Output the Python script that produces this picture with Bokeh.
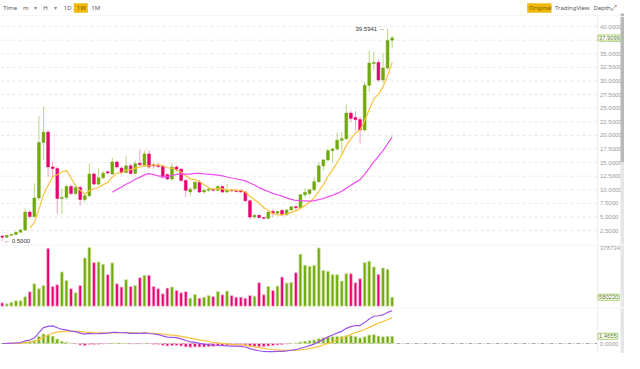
import numpy as np
from bokeh.plotting import figure
from bokeh.layouts import column
from bokeh.models import Range1d, Label, Span, ColumnDataSource
from bokeh.core.properties import value
from bokeh.embed import file_html
from bokeh.resources import INLINE

# ---------------- data (weekly candles) ----------------
opens = [1.5, 1.3, 1.65, 1.8, 2.2, 2.6, 5.9, 5.1, 8.5, 18.7,
         20.6, 14.2, 13.9, 8.4, 8.6, 10.6, 9.3, 10.4, 8.2, 8.9,
         12.9, 11.05, 12.2, 13.3, 12.9, 15.1, 14.0, 13.2, 14.4, 13.0,
         14.9, 14.5, 16.6, 14.6, 14.5, 14.3, 12.8, 12.0, 14.2, 13.8,
         11.7, 9.6, 10.2, 11.4, 9.6, 9.9, 10.1, 9.9, 10.6, 9.6,
         9.9, 9.8, 9.9, 9.6, 8.0, 5.0, 5.3, 4.9, 4.75, 6.0,
         5.7, 6.2, 5.4, 6.3, 6.9, 6.7, 9.1, 9.3, 10.0, 11.5,
         14.4, 15.5, 17.2, 17.5, 19.1, 19.4, 24.1, 23.3, 22.9, 21.0,
         29.2, 33.2, 33.4, 30.2, 32.4, 37.5]
highs = [1.6, 1.7, 1.9, 2.3, 2.9, 6.6, 6.3, 11.2, 23.6, 25.3,
         21.0, 15.1, 14.3, 10.2, 11.0, 11.0, 10.8, 10.8, 9.3, 14.9,
         13.2, 14.0, 13.5, 13.6, 15.9, 15.4, 14.3, 16.3, 14.8, 15.3,
         17.4, 17.2, 17.3, 15.0, 14.9, 14.5, 13.0, 14.9, 14.5, 14.0,
         12.0, 10.5, 11.6, 11.8, 10.3, 10.5, 10.3, 10.9, 10.8, 11.1,
         10.2, 10.1, 10.1, 9.8, 8.2, 5.6, 5.4, 5.0, 6.0, 6.5,
         6.2, 6.4, 6.4, 7.0, 7.1, 9.2, 10.3, 10.1, 12.3, 15.1,
         15.6, 17.6, 17.8, 20.5, 20.6, 25.7, 24.6, 24.5, 23.4, 29.9,
         35.6, 35.3, 34.0, 35.2, 39.5941, 38.3]
lows = [0.5, 1.2, 1.5, 1.7, 2.1, 2.5, 4.6, 4.9, 8.0, 15.5,
        12.3, 12.3, 5.6, 5.6, 8.2, 9.0, 9.0, 7.1, 7.8, 8.7,
        10.8, 10.7, 11.9, 12.8, 12.7, 13.9, 12.9, 13.0, 12.8, 12.9,
        14.3, 14.2, 13.9, 13.9, 14.0, 12.2, 11.8, 11.6, 13.4, 11.5,
        8.6, 8.9, 10.0, 9.4, 9.3, 9.6, 9.7, 9.7, 9.4, 9.4,
        9.6, 9.5, 9.5, 7.8, 4.5, 4.6, 4.7, 4.6, 4.6, 5.0,
        5.5, 5.1, 5.3, 6.1, 6.1, 6.6, 8.6, 9.0, 9.8, 11.3,
        13.6, 15.2, 15.0, 17.2, 16.6, 19.2, 22.4, 20.9, 18.45, 20.8,
        28.0, 31.9, 29.8, 29.6, 32.0, 36.0]
closes = [1.3, 1.65, 1.8, 2.2, 2.6, 5.9, 5.1, 8.5, 18.7, 20.6,
          14.2, 13.9, 8.4, 8.6, 10.6, 9.3, 10.4, 8.2, 8.9, 12.9,
          11.05, 12.2, 13.05, 13.1, 15.1, 14.2, 13.2, 14.4, 13.0, 14.8,
          14.6, 16.6, 14.2, 14.4, 14.3, 12.3, 12.0, 14.2, 13.8, 11.7,
          9.9, 10.1, 11.4, 9.6, 9.9, 10.1, 9.9, 10.6, 9.6, 9.9,
          9.8, 9.7, 9.6, 8.0, 5.0, 5.3, 4.9, 4.75, 5.9, 5.7,
          6.0, 5.4, 6.3, 6.9, 6.7, 9.1, 9.5, 10.0, 11.5, 14.4,
          15.5, 17.2, 17.5, 19.1, 19.4, 24.1, 23.1, 22.9, 21.0, 29.2,
          33.3, 33.4, 30.2, 32.4, 37.465, 37.9099]
volumes = [216000, 151000, 260000, 346000, 346000, 606000, 931000, 1450000, 1125000, 1342000,
           3740000, 1277000, 1385000, 2207000, 1666000, 1125000, 866000, 1342000, 3116000, 3787343,
           2813000, 2857000, 2705000, 2034000, 2792000, 1450000, 1234000, 1710000, 1277000, 1342000,
           1840000, 1991000, 1991000, 1277000, 1125000, 801000, 1169000, 1234000, 1017000, 866000,
           952000, 519000, 757000, 519000, 584000, 693000, 628000, 952000, 736000, 974000,
           693000, 584000, 584000, 519000, 693000, 649000, 1515000, 736000, 1277000, 1017000,
           1299000, 1883000, 1493000, 1537000, 2164000, 3355000, 2640000, 2575000, 2640000, 3760000,
           2316000, 2251000, 2034000, 2034000, 1623000, 2099000, 2099000, 1515000, 1775000, 2813000,
           2900000, 2532000, 2056000, 2467000, 2381000, 580220]

price_ticks = [2.5, 5.0, 7.5, 10.0, 12.5, 15.0, 17.5, 20.0, 22.5, 25.0,
               27.5, 30.0, 32.5, 35.0, 37.5, 40.0]
price_tick_labels = ["%.4f" % t for t in price_ticks]

header_left = ["Time", "m", "\u25be", "H", "\u25be", "1D", "1W", "1M"]
header_right = ["Original", "TradingView", "Depth"]

# ---------------- derived indicators ----------------
def sma(vals, n):
    out = []
    for i in range(len(vals)):
        out.append(float(np.mean(vals[i - n + 1:i + 1])) if i >= n - 1 else np.nan)
    return out


def ema(vals, n):
    a = 2.0 / (n + 1)
    out = [vals[0]]
    for v in vals[1:]:
        out.append(a * v + (1 - a) * out[-1])
    return np.array(out)


ma7 = sma(closes, 7)
ma25 = sma(closes, 25)
dif = ema(closes, 12) - ema(closes, 26)
dea = ema(list(dif), 9)
hist = dif - dea

# ---------------- style / layout ----------------
GREEN, PINK = "#71a90a", "#e8006f"
GREEN_W, PINK_W = "#b9d886", "#f4a0c6"
GREEN_L, PINK_L = "#cfe5a6", "#f8c0d9"
AXIS_FONT = "Liberation Sans"
UI_FONT = "Noto Sans"
W = 624
X0_PX, STEP_PX = 1.7, 4.588          # pixel position of week 0 and spacing of weeks


def px_to_idx(px):
    return (px - X0_PX) / STEP_PX


def mapper(a_px, a_val, b_px, b_val):
    k = (b_val - a_val) / (b_px - a_px)
    return lambda px: a_val + (px - a_px) * k


n = len(closes)
idx = list(range(n))
inc = [c >= o for o, c in zip(opens, closes)]
x_range = Range1d(px_to_idx(0), px_to_idx(W))
GRID_END = px_to_idx(597)
LABEL_X = px_to_idx(599.5)
TAG_X = px_to_idx(596.5)
SB_L, SB_R = px_to_idx(620), px_to_idx(W)


def make_fig(h, yr):
    p = figure(width=W, height=h, x_range=x_range, y_range=yr,
               output_backend="svg", toolbar_location=None,
               x_axis_location=None, y_axis_location=None,
               min_border=0, outline_line_color=None)
    p.grid.visible = False
    p.background_fill_color = "white"
    p.border_fill_color = "white"
    p.add_layout(Span(location=GRID_END, dimension="height",
                      line_color="#eeeeee", line_width=1))
    return p


def tag(p, y, text):
    p.add_layout(Label(x=TAG_X, y=y, text=text, text_baseline="middle",
                       text_font=AXIS_FONT, text_font_size="5.8px", text_color="#5d7d2c",
                       background_fill_color="white", border_line_color="#a6cf68",
                       border_line_width=1, padding=1, x_offset=1))


# ---------------- header ----------------
ph = figure(width=W, height=16, x_range=Range1d(0, W), y_range=Range1d(16, 0),
            output_backend="svg", toolbar_location=None,
            x_axis_location=None, y_axis_location=None,
            min_border=0, outline_line_color=None)
ph.grid.visible = False
ph.quad(left=[73.3, 526.7], right=[87.3, 551.0], top=[2.7, 2.7], bottom=[12.3, 12.3],
        fill_color="#f0b90b", line_color=None)
ph.quad(left=[620], right=[W], top=[13], bottom=[16], fill_color="#b8b8b8", line_color=None)
ph.segment(x0=[0], y0=[15.5], x1=[620], y1=[15.5], line_color="#eeeeee", line_width=1)
hl_x = [2.7, 22.5, 33.5, 42.7, 53.5, 63.3, 76.3, 90.7]
hl_col = ["#555555", "#555555", "#888888", "#555555", "#888888", "#555555", "#7a5a00", "#555555"]
ph.text(x=hl_x, y=[7.6] * len(hl_x), text=header_left, text_color=hl_col,
        text_font=value(UI_FONT), text_font_size="6px", text_baseline="middle")
ph.text(x=[528.5, 554.5, 593.0], y=[7.3] * 3, text=header_right,
        text_color=["#7a5a00", "#555555", "#555555"],
        text_font=value(UI_FONT), text_font_size="6px", text_baseline="middle")
ph.text(x=[610.5], y=[7.5], text=["\u2922"], text_color=["#555555"],
        text_font=value("DejaVu Sans"), text_font_size="7px", text_baseline="middle")

# ---------------- main price panel (canvas rows 16..244) ----------------
mval = mapper(243.7 - 16, 0.0, 26.1 - 16, 40.0)   # local pixel row -> price
MAIN_H = 228
p = make_fig(MAIN_H, Range1d(mval(MAIN_H), mval(0)))
src = ColumnDataSource(dict(
    i=idx, o=opens, h=highs, l=lows, c=closes,
    top=[max(o, c) for o, c in zip(opens, closes)],
    bot=[min(o, c) for o, c in zip(opens, closes)],
    col=[GREEN if u else PINK for u in inc],
    wcol=[GREEN_W if u else PINK_W for u in inc],
    vol=volumes,
    vline=[GREEN_L if u else PINK_L for u in inc],
    ma7=ma7, ma25=ma25,
))
p.segment(x0=[px_to_idx(0)] * len(price_ticks), x1=[GRID_END] * len(price_ticks),
          y0=price_ticks, y1=price_ticks, line_color="#e6e6e6", line_dash="3 3", line_width=1)
p.segment("i", "h", "i", "l", source=src, line_color="wcol", line_width=1)
p.vbar(x="i", width=0.62, top="top", bottom="bot", fill_color="col", line_color="col",
       line_width=0.5, source=src)
p.line("i", "ma7", source=src, line_color="#f8c23a", line_width=1.2)
p.line("i", "ma25", source=src, line_color="#f04cf0", line_width=1.2)
p.text(x=[LABEL_X] * len(price_ticks), y=price_ticks, text=price_tick_labels,
       text_font=value(AXIS_FONT), text_font_size="6px", text_color="#999999",
       text_baseline="middle")
# scrollbar
p.quad(left=[SB_L], right=[SB_R], top=[mval(0)], bottom=[mval(162 - 16)], fill_color="#b8b8b8", line_color=None)
p.quad(left=[SB_L], right=[SB_R], top=[mval(162 - 16)], bottom=[mval(MAIN_H)], fill_color="#e6e6e6", line_color=None)

hi_i = int(np.argmax(highs))
lo_i = int(np.argmin(lows))
p.add_layout(Label(x=hi_i - 0.6, y=highs[hi_i], text="%.4f \u2192" % highs[hi_i],
                   text_align="right", text_baseline="middle", text_font=AXIS_FONT,
                   text_font_size="6px", text_color="#333333"))
p.add_layout(Label(x=lo_i + 0.4, y=lows[lo_i], text="\u2190 %.4f" % lows[lo_i],
                   text_align="left", text_baseline="middle", text_font=AXIS_FONT,
                   text_font_size="6px", text_color="#333333"))
tag(p, closes[-1], "%.4f" % closes[-1])

# ---------------- volume panel (canvas rows 244..307) ----------------
VOL_H = 63
vmax = max(volumes)
vval = mapper(305.7 - 244, 0.0, 247.0 - 244, vmax)
pv = make_fig(VOL_H, Range1d(vval(VOL_H), vval(0)))
pv.add_layout(Span(location=vval(0.6), dimension="width", line_color="#f0f0f0", line_width=1))
pv.vbar(x="i", width=0.62, top="vol", bottom=0, fill_color="col", line_color="vline",
        line_width=0.8, source=src)
pv.text(x=[LABEL_X], y=[vmax], text=["%d" % vmax], text_font=value(AXIS_FONT),
        text_font_size="6px", text_color="#999999", text_baseline="middle")
pv.quad(left=[SB_L], right=[SB_R], top=[vval(0)], bottom=[vval(VOL_H)], fill_color="#e6e6e6", line_color=None)
tag(pv, volumes[-1], "%d" % volumes[-1])

# ---------------- MACD panel (canvas rows 307..353) ----------------
MACD_H = 46
dmax = float(np.max(dif))
kval = mapper(36.0, 0.0, 3.2, dmax)
pm = make_fig(MACD_H, Range1d(kval(MACD_H), kval(0)))
pm.add_layout(Span(location=kval(0.6), dimension="width", line_color="#f0f0f0", line_width=1))
msrc = ColumnDataSource(dict(i=idx, dif=dif, dea=dea, hist=hist,
                             hcol=[GREEN if v >= 0 else PINK for v in hist],
                             hline=[GREEN_L if v >= 0 else PINK_L for v in hist]))
pm.segment(x0=[px_to_idx(0)], x1=[GRID_END], y0=[0], y1=[0], line_color="#aaaaaa",
           line_dash="4 2 1 2", line_width=1)
pm.vbar(x="i", width=0.62, top="hist", bottom=0, fill_color="hcol", line_color="hline",
        line_width=0.8, source=msrc)
pm.line("i", "dea", source=msrc, line_color="#f8c23a", line_width=1.2)
pm.line("i", "dif", source=msrc, line_color="#9b55e6", line_width=1.2)
pm.text(x=[LABEL_X], y=[0], text=["0.0000"], text_font=value(AXIS_FONT),
        text_font_size="6px", text_color="#999999", text_baseline="middle")
pm.quad(left=[SB_L], right=[SB_R], top=[kval(0)], bottom=[kval(MACD_H)], fill_color="#e6e6e6", line_color=None)
tag(pm, float(hist[-1]), "%.4f" % float(hist[-1]))

layout = column(ph, p, pv, pm, spacing=0)
open("out.html", "w").write(file_html(layout, INLINE))
